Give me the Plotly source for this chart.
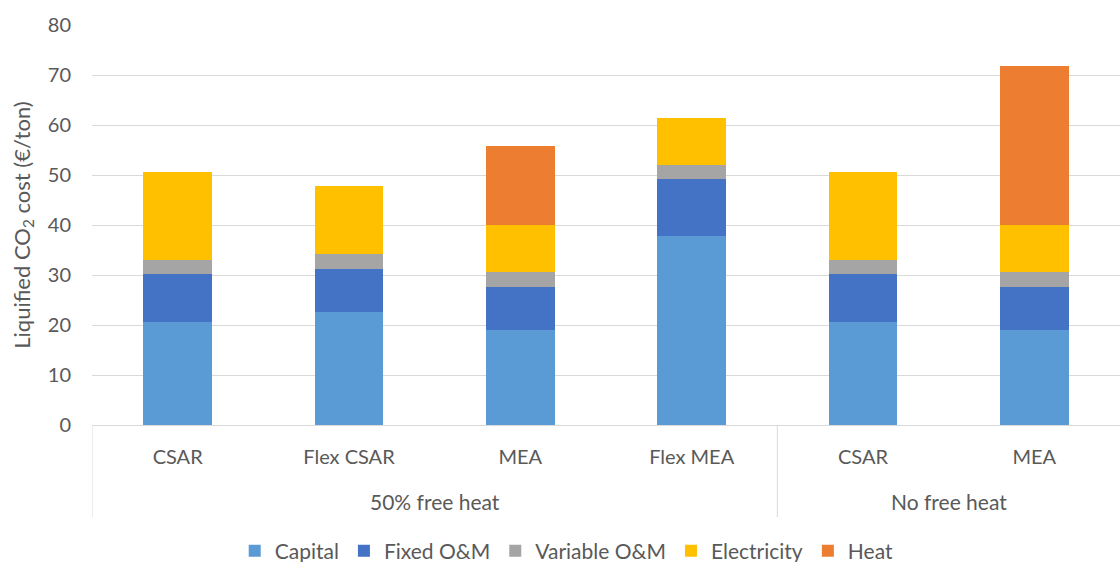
import plotly.graph_objects as go

# Scenario groups and technologies along the category axis
groups = ["50% free heat", "50% free heat", "50% free heat", "50% free heat",
          "No free heat", "No free heat"]
techs = ["CSAR", "Flex CSAR", "MEA", "Flex MEA", "CSAR", "MEA"]

# Cost components (€/ton liquified CO2)
capital = [20.6, 22.6, 19.0, 37.8, 20.6, 19.0]
fixed_om = [9.7, 8.7, 8.7, 11.5, 9.7, 8.7]
variable_om = [2.8, 2.9, 2.9, 2.8, 2.8, 3.0]
electricity = [17.6, 13.7, 9.5, 9.4, 17.5, 9.4]
heat = [0.0, 0.0, 15.8, 0.0, 0.0, 31.7]

series = [
    ("Capital", capital, "#5B9BD5"),
    ("Fixed O&M", fixed_om, "#4472C4"),
    ("Variable O&M", variable_om, "#A5A5A5"),
    ("Electricity", electricity, "#FFC000"),
    ("Heat", heat, "#ED7D31"),
]

FONT = "Lato, Carlito, Calibri, sans-serif"
TEXT = "#595959"
GRID = "#D9D9D9"

x = list(range(len(techs)))

fig = go.Figure()
for name, vals, color in series:
    fig.add_trace(go.Bar(
        name=name,
        x=x,
        y=vals,
        marker=dict(color=color, line=dict(width=0)),
        width=0.4,
    ))

# Group spans: first/last index of each consecutive group
spans = []
for i, g in enumerate(groups):
    if spans and spans[-1][0] == g:
        spans[-1][2] = i
    else:
        spans.append([g, i, i])

DIV_BOTTOM = -0.23
# Dividers at the left edge and between groups, from the axis down past the group labels
boundaries = [spans[0][1] - 0.5] + [s[2] + 0.5 for s in spans[:-1]]
for b in boundaries:
    fig.add_shape(type="line", xref="x", yref="paper",
                  x0=b, x1=b, y0=0, y1=DIV_BOTTOM,
                  line=dict(color=GRID, width=1))
# Group labels centred under their categories
for g, i0, i1 in spans:
    fig.add_annotation(xref="x", yref="paper", x=(i0 + i1) / 2, y=-0.19,
                       text=g, showarrow=False, yanchor="middle",
                       font=dict(family=FONT, size=21, color=TEXT))

fig.update_layout(
    barmode="stack",
    width=1120,
    height=562,
    margin=dict(l=92, r=0, t=25, b=137, autoexpand=False),
    paper_bgcolor="white",
    plot_bgcolor="white",
    font=dict(family=FONT, size=20, color=TEXT),
    showlegend=True,
    legend=dict(
        orientation="h",
        xref="container", yref="container",
        x=0.506, xanchor="center",
        y=0.0196, yanchor="middle",
        font=dict(family=FONT, size=21, color=TEXT),
        traceorder="normal",
        itemwidth=30,
    ),
)

fig.update_yaxes(
    range=[0, 80],
    dtick=10,
    showgrid=True,
    gridcolor=GRID,
    gridwidth=1,
    zeroline=False,
    showline=False,
    automargin=False,
    tickfont=dict(family=FONT, size=20, color=TEXT),
    ticks="",
    ticklabelstandoff=20,
    title=dict(
        text="Liquified CO<sub>2</sub> cost (€/ton)",
        font=dict(family=FONT, size=22, color=TEXT),
        standoff=11,
    ),
)

fig.update_xaxes(
    range=[-0.5, len(techs) - 0.5],
    tickvals=x,
    ticktext=techs,
    showline=True,
    linecolor=GRID,
    linewidth=1,
    showgrid=False,
    zeroline=False,
    automargin=False,
    ticks="",
    ticklabelstandoff=14,
    tickfont=dict(family=FONT, size=20, color=TEXT),
)

fig.write_html("out.html")
